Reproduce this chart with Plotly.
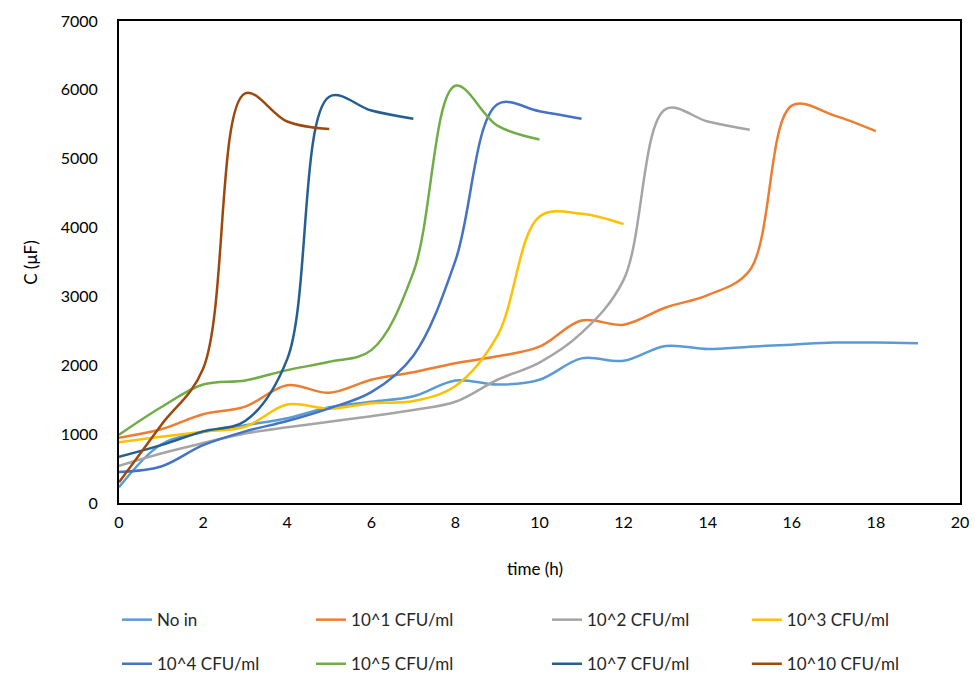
import plotly.graph_objects as go

hours = list(range(0, 20))

names = ["No in", "10^1 CFU/ml", "10^2 CFU/ml", "10^3 CFU/ml",
         "10^4 CFU/ml", "10^5 CFU/ml", "10^7 CFU/ml", "10^10 CFU/ml"]

no_in = [228, 850, 1030, 1130, 1230, 1390, 1470, 1550, 1780, 1720,
         1790, 2100, 2065, 2280, 2235, 2270, 2300, 2330, 2330, 2320]
cfu_1e1 = [949, 1070, 1290, 1400, 1710, 1600, 1790, 1900, 2030, 2130,
           2270, 2650, 2590, 2840, 3020, 3380, 5770, 5630, 5400]
cfu_1e2 = [540, 720, 870, 1010, 1100, 1180, 1260, 1350, 1470, 1790,
           2040, 2470, 3240, 5720, 5540, 5420]
cfu_1e3 = [881, 963, 1036, 1108, 1430, 1370, 1450, 1480, 1700, 2430,
           4160, 4200, 4050]
cfu_1e4 = [450, 530, 840, 1040, 1190, 1375, 1610, 2140, 3520, 5790,
           5690, 5580]
cfu_1e5 = [990, 1390, 1720, 1780, 1930, 2050, 2220, 3350, 6060, 5480, 5280]
cfu_1e7 = [670, 840, 1040, 1190, 2090, 5900, 5700, 5580]
cfu_1e10 = [300, 1130, 1950, 5950, 5540, 5430]

x_title = "time (h)"
y_title = "C (μF)"

series = [no_in, cfu_1e1, cfu_1e2, cfu_1e3, cfu_1e4, cfu_1e5, cfu_1e7, cfu_1e10]
colors = ["#5B9BD5", "#ED7D31", "#A5A5A5", "#FFC000",
          "#4472C4", "#70AD47", "#255E91", "#9E480E"]
legend_ids = ["legend", "legend2", "legend3", "legend4",
              "legend", "legend2", "legend3", "legend4"]

FONT = "Lato"

fig = go.Figure()
for i, (name, vals) in enumerate(zip(names, series)):
    fig.add_trace(go.Scatter(
        x=hours[:len(vals)], y=vals, name=name, mode="lines",
        line=dict(color=colors[i], width=2.5, shape="spline", smoothing=1.0),
        legend=legend_ids[i], legendgroup=f"g{i}",
    ))

leg_common = dict(orientation="v", yanchor="top", xanchor="left",
                  xref="container", yref="container",
                  y=0.108, tracegroupgap=19, bgcolor="rgba(0,0,0,0)",
                  font=dict(family=FONT, size=17, color="#262626"),
                  itemwidth=30)

fig.update_layout(
    width=975, height=675,
    margin=dict(l=119, r=15, t=21, b=172, autoexpand=False),
    paper_bgcolor="white", plot_bgcolor="white",
    font=dict(family=FONT, size=16, color="#000000"),
    showlegend=True,
    legend=dict(x=0.120, **leg_common),
    legend2=dict(x=0.319, **leg_common),
    legend3=dict(x=0.561, **leg_common),
    legend4=dict(x=0.766, **leg_common),
    xaxis=dict(range=[0, 20], dtick=2, tick0=0, showgrid=False, zeroline=False,
               showline=True, linecolor="black", linewidth=2, mirror=True,
               ticks="", ticklabelstandoff=4,
               tickfont=dict(family=FONT, size=16, color="#000000")),
    yaxis=dict(range=[0, 7000], dtick=1000, tick0=0, showgrid=False, zeroline=False,
               showline=True, linecolor="black", linewidth=2, mirror=True,
               ticks="", ticklabelstandoff=16,
               tickfont=dict(family=FONT, size=16, color="#000000")),
    annotations=[
        dict(text=x_title, xref="paper", yref="paper", x=0.495, y=-0.135,
             xanchor="center", yanchor="middle", showarrow=False,
             font=dict(family=FONT, size=17, color="#000000")),
        dict(text=y_title, xref="paper", yref="paper", x=-0.106, y=0.5,
             xanchor="center", yanchor="middle", showarrow=False, textangle=-90,
             font=dict(family=FONT, size=17, color="#000000")),
    ],
)

fig.write_html("out.html")
